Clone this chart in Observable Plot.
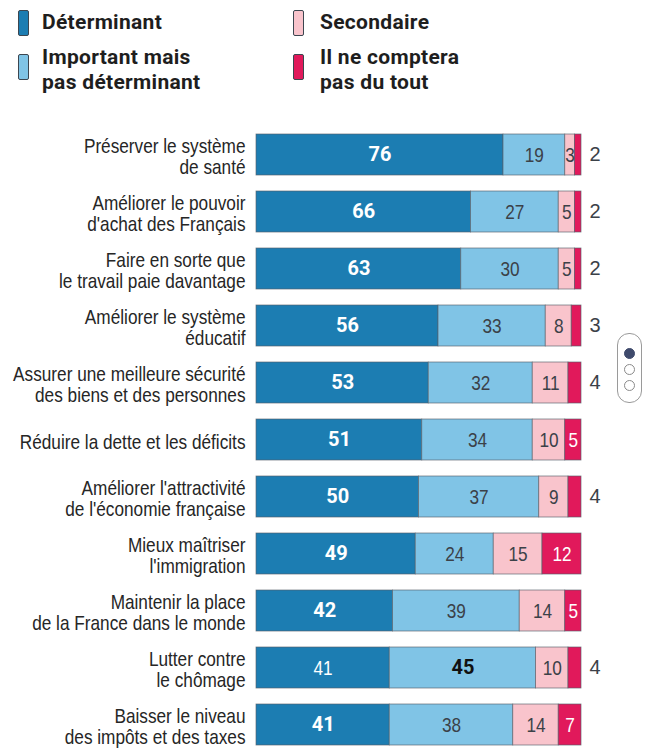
<!DOCTYPE html>
<html>
<head>
<meta charset="utf-8">
<script src="https://cdn.jsdelivr.net/npm/d3@7"></script>
<script src="https://cdn.jsdelivr.net/npm/@observablehq/plot@0.6"></script>
<style>
  body { margin: 0; background: #fff; }
  #wrap { position: relative; width: 650px; height: 752px; overflow: hidden; }
  .leg { position: absolute; font-family: Roboto, "Liberation Sans", sans-serif; font-weight: 700; font-size: 21px; line-height: 25px; color: #1e1e1e; letter-spacing: 0.3px; white-space: nowrap; }
  .sw { position: absolute; width: 11px; height: 26px; border-radius: 2px; border: 1px solid #3c4650; box-sizing: border-box; }
  #chart { position: absolute; left: 0; top: 112px; }
  #widget { position: absolute; left: 617px; top: 333px; width: 25px; height: 70px; border: 1.5px solid #9a9a9a; border-radius: 12px; box-sizing: border-box; }
  .dot { position: absolute; left: 5.5px; width: 11px; height: 11px; border-radius: 50%; border: 1.4px solid #8a8a8a; box-sizing: border-box; background: #fff; }
</style>
</head>
<body>
<div id="wrap">
  <div id="legend"></div>
  <div id="chart"></div>
  <div id="widget">
    <div class="dot" style="top:14px;background:#3f4a6c;border-color:#3f4a6c"></div>
    <div class="dot" style="top:30px"></div>
    <div class="dot" style="top:46px"></div>
  </div>
</div>
<script>
const categories = [
  "Préserver le système\nde santé",
  "Améliorer le pouvoir\nd'achat des Français",
  "Faire en sorte que\nle travail paie davantage",
  "Améliorer le système\néducatif",
  "Assurer une meilleure sécurité\ndes biens et des personnes",
  "Réduire la dette et les déficits",
  "Améliorer l'attractivité\nde l'économie française",
  "Mieux maîtriser\nl'immigration",
  "Maintenir la place\nde la France dans le monde",
  "Lutter contre\nle chômage",
  "Baisser le niveau\ndes impôts et des taxes"
];
const determinant = [76, 66, 63, 56, 53, 51, 50, 49, 42, 41, 41];
const important   = [19, 27, 30, 33, 32, 34, 37, 24, 39, 45, 38];
const secondaire  = [3, 5, 5, 8, 11, 10, 9, 15, 14, 10, 14];
const pasDuTout   = [2, 2, 2, 3, 4, 5, 4, 12, 5, 4, 7];
const seriesNames = ["Déterminant", "Important mais pas déterminant", "Secondaire", "Il ne comptera pas du tout"];
const legendLabels = ["Déterminant", "Important mais\npas déterminant", "Secondaire", "Il ne comptera\npas du tout"];
const colors = ["#1c7db2", "#80c4e6", "#f9c4cc", "#e1195b"];

// Legend (HTML)
const legend = document.getElementById("legend");
const legPos = [[18, 42, 10, 10], [18, 42, 54, 45], [293, 320, 10, 10], [293, 320, 54, 45]];
legendLabels.forEach((lab, i) => {
  const [sx, tx, sy, ty] = legPos[i];
  const sw = document.createElement("div");
  sw.className = "sw";
  sw.style.left = sx + "px"; sw.style.top = sy + "px"; sw.style.background = colors[i];
  legend.appendChild(sw);
  const t = document.createElement("div");
  t.className = "leg";
  t.style.left = tx + "px"; t.style.top = ty + "px";
  t.innerHTML = lab.replace("\n", "<br>");
  legend.appendChild(t);
});

// Long-form rows with stacking
const series = [determinant, important, secondaire, pasDuTout];
const rows = [];
categories.forEach((cat, i) => {
  let cum = 0;
  const vals = series.map(s => s[i]);
  const mx = Math.max(...vals);
  vals.forEach((v, s) => {
    rows.push({cat, series: seriesNames[s], s, value: v, x1: cum, x2: cum + v, mid: cum + v / 2, isMax: v === mx});
    cum += v;
  });
});

const narrow = "'Liberation Sans', Arial, sans-serif";
const plainFont = "Arial, 'Liberation Sans', sans-serif";
const boldFont = "Roboto, 'Liberation Sans', sans-serif";

const chart = Plot.plot({
  width: 650,
  height: 640,
  margin: 0,
  x: {domain: [0, 100], range: [256, 581], axis: null},
  y: {domain: categories, range: [19, 636], paddingInner: 0.278, paddingOuter: 0, axis: null},
  color: {domain: seriesNames, range: colors},
  marks: [
    Plot.barX(rows, {x1: "x1", x2: "x2", y: "cat", fill: "series", stroke: "#56606a", strokeWidth: 0.8, strokeOpacity: 0.8}),
    // category labels
    Plot.text(categories, {x: () => 0, y: d => d, text: d => d, textAnchor: "end", dx: -11, dy: 2,
      fontFamily: narrow, fontSize: 21, lineHeight: 1.0, fill: "#262626"}),
    // white bold
    Plot.text(rows.filter(d => d.s === 0 && d.isMax), {x: "mid", y: "cat", text: "value",
      fill: "white", fontFamily: boldFont, fontWeight: 700, fontSize: 20}),
    // white normal
    Plot.text(rows.filter(d => (d.s === 0 && !d.isMax) || (d.s === 3 && d.value >= 5)), {x: "mid", y: "cat", text: "value",
      fill: "white", fontFamily: narrow, fontSize: 21}),
    // grey normal
    Plot.text(rows.filter(d => (d.s === 1 && !d.isMax) || d.s === 2), {x: "mid", y: "cat", text: "value",
      fill: "#3b4148", fontFamily: narrow, fontSize: 21}),
    // black bold
    Plot.text(rows.filter(d => d.s === 1 && d.isMax), {x: "mid", y: "cat", text: "value",
      fill: "#111", fontFamily: boldFont, fontWeight: 700, fontSize: 20}),
    // outside
    Plot.text(rows.filter(d => d.s === 3 && d.value < 5), {x: "x2", y: "cat", text: "value",
      textAnchor: "start", dx: 8, fill: "#3b4148", fontFamily: plainFont, fontSize: 20})
  ]
});

// Condense the "narrow" texts horizontally (Arial Narrow ≈ 82% of Arial)
chart.querySelectorAll("g[font-family]").forEach(g => {
  if (!g.getAttribute("font-family").startsWith("'Liberation Sans'")) return;
  g.querySelectorAll("text").forEach(t => {
    let tr = t.getAttribute("transform");
    if (!tr) {
      const x = t.getAttribute("x") || 0, y = t.getAttribute("y") || 0;
      t.removeAttribute("x"); t.removeAttribute("y");
      tr = `translate(${x},${y})`;
    }
    t.setAttribute("transform", tr + " scale(0.82,1)");
  });
});
document.getElementById("chart").appendChild(chart);
</script>
</body>
</html>
